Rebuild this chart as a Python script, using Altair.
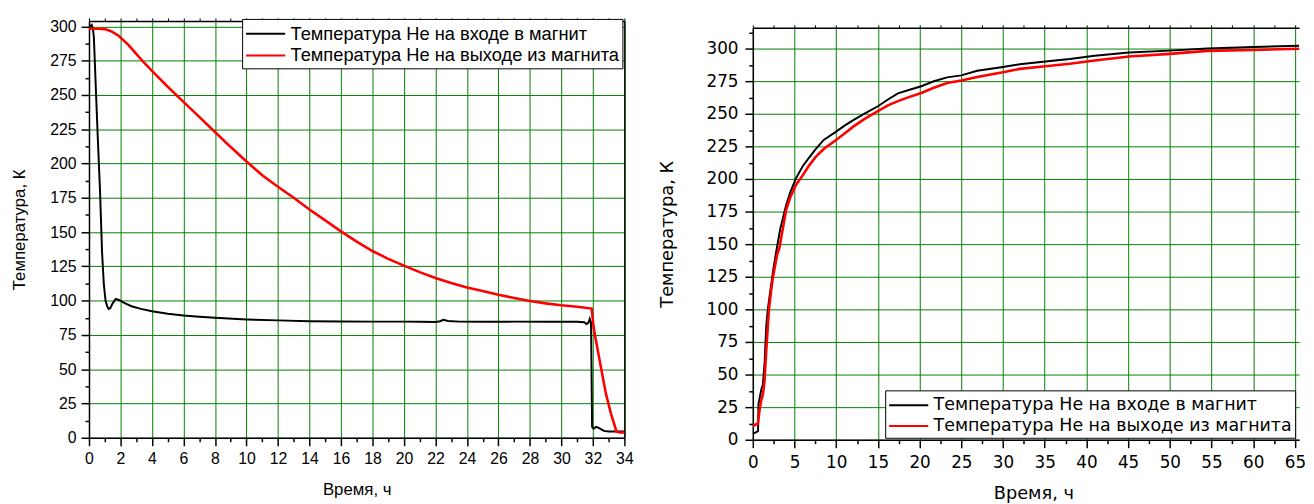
import altair as alt
import pandas as pd

SER_IN = "Температура Не на входе в магнит"
SER_OUT = "Температура Не на выходе из магнита"

# ---------------- left panel (cool-down) ----------------
L_in_t = [0, 0.17, 0.25, 0.31, 0.45, 0.56, 0.7, 0.83, 0.94, 1.05, 1.15, 1.25, 1.35, 1.5, 1.7, 1.9,
          2.2, 2.7, 3.3, 4.0, 5.0, 6.0, 7.0, 8.0, 10.0, 12.0, 14.0, 16.0, 18.0, 20.0, 21.0, 22.0,
          22.3, 22.5, 22.8, 23.5, 25.0, 27.0, 29.0, 31.0, 31.45, 31.6, 31.72, 31.8, 31.88, 31.95,
          32.05, 32.2, 32.4, 32.7, 33.0, 33.5, 34.0]
L_in_T = [299.5, 301, 298, 292, 250, 218, 180, 135, 112, 100, 96, 94, 94.5, 98, 101.2, 100.5,
          98.5, 95.9, 94, 92.3, 90.5, 89.2, 88.3, 87.5, 86.3, 85.6, 85, 84.8, 84.7, 84.7, 84.6, 84.5,
          85, 86, 85.2, 84.7, 84.6, 84.7, 84.6, 84.6, 84.2, 83, 84, 86.7, 84, 8,
          6.5, 8, 7, 5, 4.6, 4.5, 4.5]
L_out_t = [0, 0.6, 1.0, 1.4, 1.9, 2.5, 3.0, 3.5, 4.0, 5.0, 6.0, 7.0, 8.0, 9.0, 10.0, 11.0, 12.0,
           13.0, 14.0, 15.0, 16.0, 17.0, 18.0, 19.0, 20.0, 21.0, 22.0, 23.0, 24.0, 25.0, 26.0,
           27.0, 28.0, 29.0, 30.0, 31.0, 31.92, 32.05, 32.2, 32.5, 32.83, 33.14, 33.5, 33.7, 34.0]
L_out_T = [298.3, 298.3, 298, 296.5, 293, 286.5, 280, 273.5, 267.5, 256, 245, 234, 223, 212,
           201.5, 191.5, 183, 175, 166.5, 158.5, 150.5, 143, 136.2, 130.5, 125.5, 120.8, 116.5,
           112.8, 109.6, 107, 104.3, 101.9, 99.8, 98, 96.6, 95.5, 94.2, 80, 70.6, 52, 32, 17.8,
           4.5, 3.9, 3.8]

# ---------------- right panel (warm-up) ----------------
R_in_t = [0, 0.3, 0.63, 0.68, 0.85, 1.03, 1.2, 1.42, 1.62, 1.8, 2.0, 2.25, 2.49, 2.8, 3.3, 4.0,
          4.5, 5.17, 6.0, 6.7, 7.54, 8.5, 9.9, 11, 12, 13.5, 15.05, 16.2, 17.4, 18.8, 20.2, 21.7,
          23.3, 25, 26.9, 30, 32, 34.8, 38, 41, 45.1, 50, 54.5, 60, 65.5]
R_in_T = [4.8, 5.5, 6.6, 27.5, 33, 38.9, 42, 60, 88, 100, 109.6, 121, 132, 144, 162, 180,
          190, 200.5, 210, 216, 223, 230, 236, 241, 245, 250.5, 256, 261, 265.7, 268.5, 271.2, 275,
          278, 279.5, 283, 286, 288, 290, 292, 294.5, 297, 298.5, 300.2, 301.2, 302.3]
R_out_t = [0, 0.3, 0.6, 0.83, 1.0, 1.22, 1.4, 1.62, 1.93, 2.15, 2.41, 2.92, 3.2, 3.6, 4.0, 4.5,
           5.17, 6.0, 6.7, 7.54, 8.5, 9.9, 11, 12, 13.5, 15.05, 16.2, 17.4, 18.8, 20.2, 21.7, 23.3,
           25, 26.9, 30, 32, 34.8, 38, 41, 45.1, 50, 54.5, 60, 65.5]
R_out_T = [10.5, 11.5, 12.4, 23.7, 30, 35, 45, 69, 99.5, 112, 124.7, 142, 147.5, 162, 176.5, 186,
           195.5, 203, 210, 217, 223, 229.5, 235, 240, 246.5, 252.3, 256.5, 259.8, 263, 266, 270,
           273.7, 275.5, 278.3, 282, 284.5, 286.4, 288.5, 291, 294, 296, 298.3, 299, 300]


def frame(t, T, name):
    return pd.DataFrame({"t": t, "T": T, "s": name, "o": list(range(len(t)))})


dfL_in = frame(L_in_t, L_in_T, SER_IN)
dfL_out = frame(L_out_t, L_out_T, SER_OUT)
dfR_in = frame(R_in_t, R_in_T, SER_IN)
dfR_out = frame(R_out_t, R_out_T, SER_OUT)

GREEN = "#008000"
color_scale = alt.Scale(domain=[SER_IN, SER_OUT], range=["#000000", "#ff0000"])


def cond(test, a, b):
    return {"condition": {"test": test, "value": a}, "value": b}


def legend(font, size, lx, ly):
    return alt.Legend(title=None, orient="none", legendX=lx, legendY=ly, direction="vertical",
                      symbolType="M-1,0H2.6", symbolSize=484, symbolStrokeWidth=2,
                      labelFont=font, labelFontSize=size, labelColor="black", labelLimit=0,
                      labelOffset=22, strokeColor="black", fillColor="white", padding=3,
                      rowPadding=0, labelBaseline="middle")


def panel(df_in, df_out, xdom, ydom, xvals, yvals, xmaj, ymaj, font, tfs, lfs, lgfs,
          lx, ly, ylabpad, ytitlepad, xlabpad, xtitlepad, right_opacity, xtitlex=None):
    xs = alt.Scale(domain=xdom, nice=False, zero=False)
    ys = alt.Scale(domain=ydom, nice=False, zero=False)
    xt = "datum.value %% %s == 0" % xmaj
    yt = "datum.value %% %s == 0" % ymaj
    xkw = {}
    if xtitlex is not None:
        xkw["titleX"] = xtitlex
    x_axis = alt.Axis(orient="bottom", values=xvals,
                      labelExpr=xt + " ? format(datum.value, 'd') : ''",
                      grid=True, gridColor=GREEN, gridWidth=1, gridOpacity=cond(xt, 1, 0),
                      tickSize=cond(xt, 8, 4), tickColor="black", tickWidth=1.5,
                      domainColor="black", domainWidth=1.5, labelFont=font, labelFontSize=lfs,
                      labelColor="black", labelPadding=xlabpad, labelFlush=False,
                      labelOverlap=False, title="Время, ч", titleFont=font,
                      titleFontSize=tfs, titleFontWeight="normal", titleColor="black",
                      titlePadding=xtitlepad, **xkw)
    y_axis = alt.Axis(orient="left", values=yvals,
                      labelExpr=yt + " ? format(datum.value, 'd') : ''",
                      grid=True, gridColor=GREEN, gridWidth=1, gridOpacity=cond(yt, 1, 0),
                      tickSize=cond(yt, 8, 4), tickColor="black", tickWidth=1.5,
                      domainColor="black", domainWidth=1.5, labelFont=font, labelFontSize=lfs,
                      labelColor="black", labelPadding=ylabpad, labelFlush=False,
                      labelOverlap=False, title="Температура, К", titleFont=font,
                      titleFontSize=tfs, titleFontWeight="normal", titleColor="black",
                      titlePadding=ytitlepad)
    top_axis = alt.Axis(orient="top", values=xvals, labels=False, grid=False, tickSize=3,
                        tickColor="black", tickWidth=1, domainColor="black", domainWidth=1.5,
                        title=None)
    right_axis = alt.Axis(orient="right", labels=False, ticks=False, grid=False,
                          domainColor="black", domainWidth=1.5, domainOpacity=right_opacity,
                          title=None)
    col = alt.Color("s:N", scale=color_scale, legend=legend(font, lgfs, lx, ly))
    base_in = alt.Chart(df_in).mark_line(strokeWidth=2, clip=True).encode(
        x=alt.X("t:Q", scale=xs, axis=x_axis),
        y=alt.Y("T:Q", scale=ys, axis=y_axis),
        color=col, order="o:Q")
    base_out = alt.Chart(df_out).mark_line(strokeWidth=2.6, clip=True).encode(
        x=alt.X("t:Q", scale=xs, axis=None), y=alt.Y("T:Q", scale=ys, axis=None),
        color=col, order="o:Q")
    frame_layer = alt.Chart(df_in).mark_line(strokeOpacity=0).encode(
        x=alt.X("t:Q", scale=xs, axis=top_axis), y=alt.Y("T:Q", scale=ys, axis=right_axis))
    return alt.layer(base_in, base_out, frame_layer), xs


# left panel
xL_vals = list(range(0, 35))
yL_vals = [i * 12.5 for i in range(0, 25)]
left, _ = panel(dfL_in, dfL_out, [0, 34], [0, 304], xL_vals, yL_vals, 2, 25,
                "Liberation Sans", 17, 16, 18.5, 155, -2, 5, 22, 5, 15, 1)
left = left.properties(width=542, height=422)

# right panel
xR_vals = [i * 2.5 for i in range(0, 27)]
yR_vals = [i * 12.5 for i in range(0, 26)]
right_main, xsR = panel(dfR_in, dfR_out, [0, 65.5], [0, 316], xR_vals, yR_vals, 5, 25,
                        "DejaVu Sans", 18, 17, 17.6, 134, 367, 7, 30, 7, 14, 0, xtitlex=284)
right_main = right_main.properties(width=553, height=417)

# thin invisible strip that lowers the right panel a few pixels
spacer = alt.Chart(dfR_in).mark_rule(opacity=0, strokeWidth=0.1).encode(
    x=alt.X("t:Q", scale=xsR, axis=None)
).properties(width=553, height=1)
right = alt.vconcat(spacer, right_main, spacing=1).resolve_scale(
    x="independent", y="independent", color="independent")

chart = alt.hconcat(left, right, spacing=25).resolve_scale(
    x="independent", y="independent", color="independent"
).properties(
    padding={"left": 2, "top": 6, "right": 0, "bottom": 0}, background="white"
).configure_view(stroke=None)

chart.save("out.html", embed_options={"renderer": "svg", "actions": False})
